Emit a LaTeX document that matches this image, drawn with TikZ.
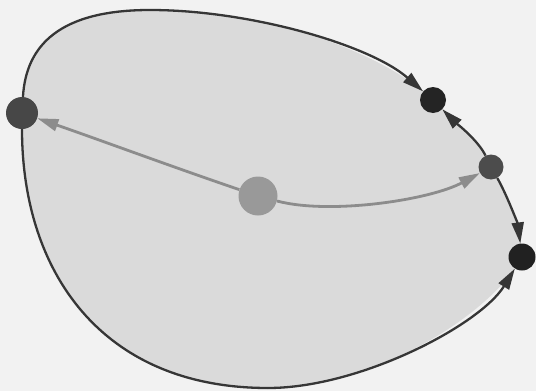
\documentclass[tikz,border=0pt]{standalone}
\usetikzlibrary{arrows.meta}
\definecolor{bgc}{HTML}{F2F2F2}
\definecolor{blobc}{HTML}{DADADA}
\definecolor{linec}{HTML}{363636}
\definecolor{grayarr}{HTML}{8C8C8C}
\begin{document}
\begin{tikzpicture}[x=1pt,y=-1pt,
  dot/.style={circle,inner sep=0pt,draw=none},
  outl/.style={draw=linec,line width=2.3pt,-{Triangle[length=21pt,width=12pt]}},
  grarr/.style={draw=grayarr,line width=2.8pt,-{Triangle[length=21pt,width=12pt]}}]
\useasboundingbox[fill=bgc] (0,0) rectangle (536,391);
% blob fill
\filldraw[fill=blobc,draw=blobc,line width=2pt] (22,113) .. controls (26,45) and (60,10) .. (150,10)
  .. controls (250,10) and (370,45) .. (433,100)
  .. controls (455,122) and (478,140) .. (491,167)
  .. controls (507,195) and (518,225) .. (522,257)
  .. controls (480,325) and (360,388) .. (268,388)
  .. controls (100,388) and (22,270) .. (22,113) -- cycle;
\coordinate (t1) at (150,10);
\coordinate (b1) at (268,388);
% nodes
\node[dot,fill=black!72,minimum size=32pt] (A) at (22,113) {};
\node[dot,fill=black!86,minimum size=26pt] (B) at (433,100) {};
\node[dot,fill=black!70,minimum size=25pt] (C) at (491,167) {};
\node[dot,fill=black!87,minimum size=27pt] (D) at (522,257) {};
\node[dot,fill=black!40,minimum size=39pt] (E) at (258,196) {};
% outline connectors
\draw[outl] (A) .. controls (26,45) and (60,10) .. (t1)
  .. controls (250,10) and (370,45) .. (B);
\draw[outl] (C) .. controls (478,140) and (455,122) .. (B);
\draw[outl] (C) .. controls (507,195) and (518,225) .. (D);
\draw[outl] (A) .. controls (22,270) and (100,388) .. (b1)
  .. controls (360,388) and (480,325) .. (D);
% gray arrows
\draw[grarr] (E) .. controls (170,166) and (100,140) .. (A);
\draw[grarr] (E) .. controls (330,215) and (430,200) .. (C);
\end{tikzpicture}
\end{document}
